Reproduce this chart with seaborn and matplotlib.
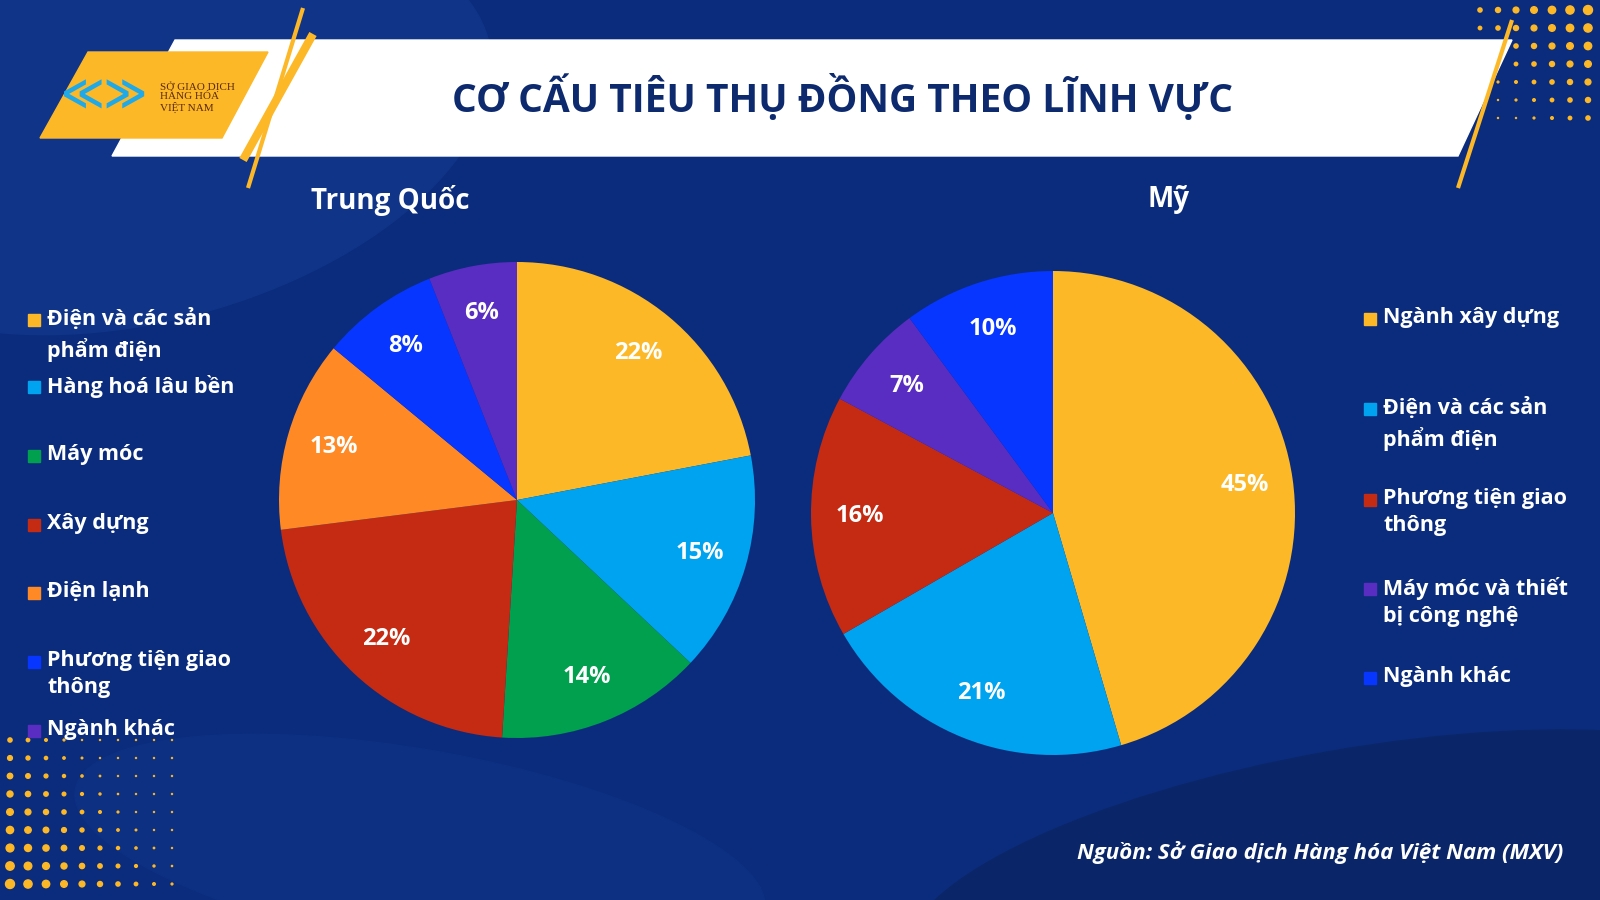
import matplotlib
matplotlib.use("Agg")
import matplotlib.pyplot as plt
import seaborn as sns
import numpy as np
from matplotlib.patches import Polygon, Ellipse, Rectangle

sns.set_theme(style="white")
plt.rcParams["font.family"] = ["Open Sans", "DejaVu Sans"]

# data
cn_labels = ["Điện và các sản\nphẩm điện", "Hàng hoá lâu bền", "Máy móc", "Xây dựng",
             "Điện lạnh", "Phương tiện giao\nthông", "Ngành khác"]
cn_values = [22, 15, 14, 22, 13, 8, 6]
cn_colors = ["#FDB827", "#00A3F0", "#00A04F", "#C42B12", "#FF8A25", "#0636FF", "#5A2DC2"]

us_labels = ["Ngành xây dựng", "Điện và các sản\nphẩm điện", "Phương tiện giao\nthông",
             "Máy móc và thiết\nbị công nghệ", "Ngành khác"]
us_values = [45, 21, 16, 7, 10]
us_colors = ["#FDB827", "#00A3F0", "#C42B12", "#5A2DC2", "#0636FF"]

BG = "#0B2C7C"
W, H = 1600, 900

fig = plt.figure(figsize=(16, 9), dpi=100, facecolor=BG)

# background / decoration layer in pixel coordinates
bg = fig.add_axes([0, 0, 1, 1])
bg.set_xlim(0, W)
bg.set_ylim(H, 0)
bg.axis("off")
bg.add_patch(Ellipse((150, 130), 700, 380, angle=-15, color="#0F3488", zorder=0))
bg.add_patch(Ellipse((1350, 880), 900, 260, angle=-10, color="#0A2668", zorder=0))
bg.add_patch(Ellipse((420, 850), 700, 200, angle=10, color="#0D3083", zorder=0))

# yellow dots in corners
for i in range(9):
    for j in range(10):
        x, y = 10 + j * 18, 740 + i * 18
        s = max(0.5, 4.5 - 0.4 * j - 0.3 * (8 - i))
        bg.add_patch(Ellipse((x, y), s * 2, s * 2, color="#FDB827", zorder=1))
for i in range(7):
    for j in range(7):
        x, y = 1480 + j * 18, 10 + i * 18
        s = max(0.5, 4.5 - 0.4 * (6 - j) - 0.4 * i)
        bg.add_patch(Ellipse((x, y), s * 2, s * 2, color="#FDB827", zorder=1))

# banner
bg.add_patch(Polygon([(175, 40), (1512, 40), (1458, 156), (112, 156)], color="white", zorder=2))
bg.add_patch(Polygon([(88, 52), (268, 52), (222, 138), (40, 138)], color="#FDB827", zorder=3))
for x0, x1, y0, y1, lw in [(303, 248, 8, 188, 3), (313, 243, 34, 160, 6), (1512, 1458, 20, 188, 3)]:
    bg.plot([x0, x1], [y0, y1], color="#FDB827", lw=lw, zorder=3, solid_capstyle="butt")
bg.text(105, 97, "≪≫", color="#1FA9E8", fontsize=30, fontweight="bold",
        ha="center", va="center", zorder=4)
bg.text(160, 97, "SỞ GIAO DỊCH\nHÀNG HÓA\nVIỆT NAM", color="#5A2A14", fontsize=8,
        ha="left", va="center", family=["Liberation Serif", "DejaVu Serif"], linespacing=1.1, zorder=4)
bg.text(843, 97, "CƠ CẤU TIÊU THỤ ĐỒNG THEO LĨNH VỰC", color="#0E2A6E", fontsize=28,
        fontweight="bold", ha="center", va="center", zorder=4)

bg.text(390, 200, "Trung Quốc", color="white", fontsize=20, fontweight="bold", ha="center", va="center")
bg.text(1168, 200, "Mỹ", color="white", fontsize=20, fontweight="bold", ha="center", va="center")

bg.text(1563, 852, "Nguồn: Sở Giao dịch Hàng hóa Việt Nam (MXV)", color="white", fontsize=16,
        fontweight="bold", style="italic", ha="right", va="center")

# legends
def legend(x, ys, labels, colors):
    for y, lab, c in zip(ys, labels, colors):
        bg.add_patch(Rectangle((x, y - 6), 12, 12, color=c, zorder=4))
        bg.text(x + 19, y - 12, lab, color="white", fontsize=15.5, fontweight="bold",
                ha="left", va="top", linespacing=1.4, zorder=4)

legend(28, [320, 387, 456, 525, 593, 662, 731], cn_labels, cn_colors)
legend(1364, [319, 409, 500, 589, 678], us_labels, us_colors)

# pies
def pie(cx, cy, r, values, colors):
    ax = fig.add_axes([(cx - r) / W, (H - cy - r) / H, 2 * r / W, 2 * r / H])
    ax.pie(values, colors=colors, startangle=90, counterclock=False, radius=1,
           autopct="%d%%", pctdistance=0.8,
           textprops=dict(color="white", fontsize=17, fontweight="bold"),
           wedgeprops=dict(linewidth=0))
    ax.set_xlim(-1, 1)
    ax.set_ylim(-1, 1)
    ax.set_aspect("equal")
    ax.axis("off")

pie(517, 500, 238, cn_values, cn_colors)
pie(1053, 513, 242, us_values, us_colors)

fig.savefig("out.png", dpi=100, facecolor=BG)
